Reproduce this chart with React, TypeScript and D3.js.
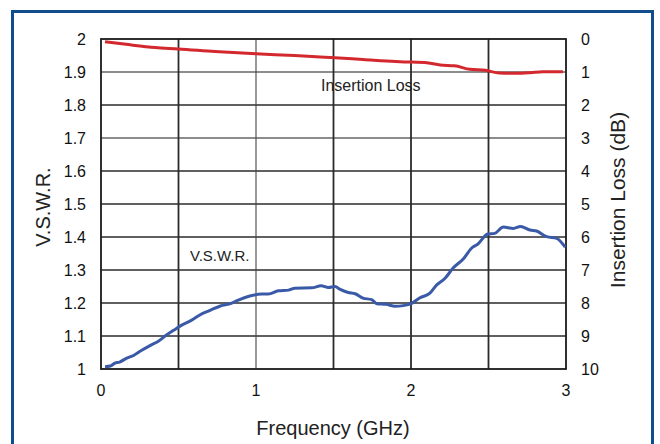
import React from "react";
import * as d3 from "d3";

const W = 660;
const H = 444;

const xTicks = [0, 1, 2, 3];
const xGrid = [0.5, 1, 1.5, 2, 2.5];
const vswrTicks = [1, 1.1, 1.2, 1.3, 1.4, 1.5, 1.6, 1.7, 1.8, 1.9, 2];
const lossTicks = [0, 1, 2, 3, 4, 5, 6, 7, 8, 9, 10];

const vswrFreq = [
  0.026, 0.06, 0.09, 0.12, 0.166, 0.21, 0.26, 0.316, 0.37, 0.42, 0.477, 0.51,
  0.585, 0.65, 0.7, 0.77, 0.84, 0.886, 0.96, 1.037, 1.08, 1.145, 1.21, 1.25,
  1.36, 1.42, 1.467, 1.51, 1.54, 1.595, 1.64, 1.69, 1.746, 1.78, 1.84, 1.897,
  1.95, 2.005, 2.058, 2.12, 2.166, 2.22, 2.27, 2.34, 2.39, 2.43, 2.495, 2.54,
  2.595, 2.66, 2.707, 2.768, 2.81, 2.876, 2.94, 2.995,
];
const vswrValues = [
  1.007, 1.009, 1.018, 1.021, 1.033, 1.041, 1.056, 1.071, 1.084, 1.102, 1.12, 1.13,
  1.148, 1.167, 1.177, 1.191, 1.199, 1.209, 1.221, 1.227, 1.227, 1.237, 1.239, 1.245,
  1.246, 1.252, 1.247, 1.25, 1.242, 1.232, 1.228, 1.215, 1.21, 1.198, 1.196, 1.19,
  1.192, 1.199, 1.216, 1.229, 1.255, 1.275, 1.305, 1.335, 1.366, 1.378, 1.409, 1.411,
  1.43, 1.426, 1.432, 1.421, 1.418, 1.401, 1.396, 1.369,
];

const lossFreq = [
  0.026, 0.176, 0.35, 0.5, 0.735, 1.0, 1.25, 1.48, 1.69, 1.9, 2.0, 2.09, 2.19,
  2.28, 2.38, 2.48, 2.57, 2.68, 2.77, 2.85, 2.98,
];
const lossValues = [
  0.08, 0.17, 0.26, 0.3, 0.38, 0.45, 0.5, 0.56, 0.62, 0.68, 0.7, 0.71, 0.79,
  0.81, 0.92, 0.95, 1.03, 1.04, 1.02, 0.99, 0.99,
];

const plot = { left: 101, right: 566, top: 39, bottom: 369 };

export default function App() {
  const x = d3.scaleLinear().domain([0, 3]).range([plot.left, plot.right]);
  const yV = d3.scaleLinear().domain([1, 2]).range([plot.bottom, plot.top]);
  const yL = d3.scaleLinear().domain([0, 10]).range([plot.top, plot.bottom]);

  const vswrLine = d3
    .line<number>()
    .x((_, i) => x(vswrFreq[i]))
    .y((d) => yV(d))
    .curve(d3.curveMonotoneX)(vswrValues);
  const lossLine = d3
    .line<number>()
    .x((_, i) => x(lossFreq[i]))
    .y((d) => yL(d))
    .curve(d3.curveMonotoneX)(lossValues);

  const font = "'Liberation Sans', Arial, sans-serif";
  const borderColor = "#114d8c";

  return (
    <svg
      width={W}
      height={H}
      style={{ position: "absolute", left: 0, top: 0, background: "#fff" }}
      fontFamily={font}
    >
      <rect x={0} y={0} width={W} height={H} fill="#fff" />
      {/* outer frame */}
      <path
        d={`M12.5,${H + 5} L12.5,11.5 L652.5,11.5 L652.5,${H + 5}`}
        fill="none"
        stroke={borderColor}
        strokeWidth={3}
      />
      {/* horizontal grid */}
      {vswrTicks.slice(1, -1).map((t, i) => (
        <line
          key={"h" + i}
          x1={plot.left}
          x2={plot.right}
          y1={yV(t)}
          y2={yV(t)}
          stroke={t === 1.9 || t === 1.7 ? "#666" : "#2b2b2b"}
          strokeWidth={1.6}
        />
      ))}
      {/* vertical grid */}
      {xGrid.map((t, i) => (
        <line
          key={"v" + i}
          x1={x(t)}
          x2={x(t)}
          y1={plot.top}
          y2={plot.bottom}
          stroke={t === 1 ? "#444" : "#2b2b2b"}
          strokeWidth={t === 1 ? 1.1 : 1.8}
        />
      ))}
      {/* plot frame */}
      <rect
        x={plot.left}
        y={plot.top}
        width={plot.right - plot.left}
        height={plot.bottom - plot.top}
        fill="none"
        stroke="#1a1a1a"
        strokeWidth={1.8}
      />
      {/* curves */}
      <path d={lossLine || ""} fill="none" stroke="#d3282e" strokeWidth={3} strokeLinejoin="round" />
      <path d={vswrLine || ""} fill="none" stroke="#3a5aa8" strokeWidth={3} strokeLinejoin="round" />

      {/* left tick labels */}
      {vswrTicks.map((t, i) => (
        <text key={"l" + i} x={86} y={yV(t)} dy="0.36em" textAnchor="end" fontSize={16} fill="#111">
          {d3.format("~g")(t)}
        </text>
      ))}
      {/* right tick labels */}
      {lossTicks.map((t, i) => (
        <text key={"r" + i} x={581} y={yL(t)} dy="0.36em" textAnchor="start" fontSize={16} fill="#111">
          {t}
        </text>
      ))}
      {/* x tick labels */}
      {xTicks.map((t, i) => (
        <text key={"x" + i} x={x(t)} y={396} textAnchor="middle" fontSize={16} fill="#111">
          {t}
        </text>
      ))}

      {/* series labels */}
      <text x={321} y={91} fontSize={16} fill="#222">Insertion Loss</text>
      <text x={190} y={261} fontSize={15} fill="#222">V.S.W.R.</text>

      {/* axis titles */}
      <text x={333} y={435} textAnchor="middle" fontSize={20} fill="#222">
        Frequency (GHz)
      </text>
      <text
        transform={`translate(50,207) rotate(-90)`}
        textAnchor="middle"
        fontSize={20}
        fill="#222"
      >
        V.S.W.R.
      </text>
      <text
        transform={`translate(625,200) rotate(-90)`}
        textAnchor="middle"
        fontSize={21}
        fill="#222"
      >
        Insertion Loss (dB)
      </text>
    </svg>
  );
}
